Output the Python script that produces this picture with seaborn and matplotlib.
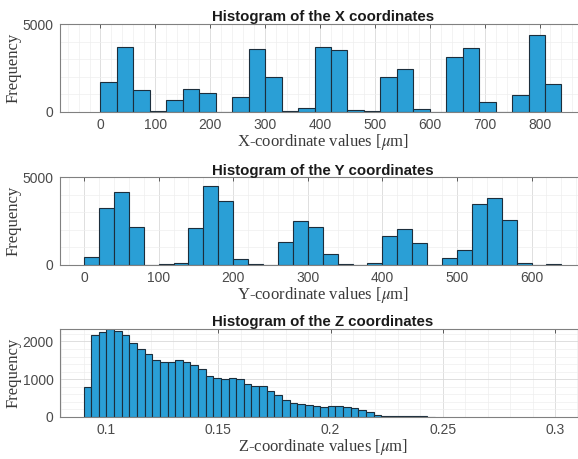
"""
Histogramas de las coordenadas X, Y, Z
"""

import numpy as np
import pandas as pd
import matplotlib
matplotlib.use("Agg")
import matplotlib.pyplot as plt
from matplotlib.ticker import MultipleLocator
import seaborn as sns

# Conteos (un valor por bin)
x_bin_start, x_bin_width = 0, 30
x_counts = [1700, 3690, 1250, 40, 660, 1300, 1040, 0, 820, 3580,
            2000, 20, 200, 3690, 3540, 80, 40, 1970, 2430, 150,
            0, 3120, 3610, 520, 0, 960, 4360, 1600]

y_bin_start, y_bin_width = 0, 20
y_counts = [450, 3230, 4140, 2130, 0, 10, 60, 2080, 4510, 3620,
            290, 40, 0, 1270, 2470, 2150, 590, 10, 0, 90,
            1620, 2020, 1230, 0, 370, 820, 3480, 3820, 2580, 90,
            0, 15]

z_bin_start, z_bin_width = 0.09, 0.0034
z_counts = [780, 2160, 2250, 2330, 2280, 2160, 1970, 1800, 1660, 1520,
            1450, 1450, 1520, 1460, 1380, 1270, 1080, 1040, 1000, 1040,
            990, 860, 810, 820, 690, 570, 450, 370, 330, 310,
            290, 270, 280, 280, 250, 220, 180, 130, 50, 30,
            20, 15, 20, 10, 15, 5]

titles = ["Histogram of the X coordinates",
          "Histogram of the Y coordinates",
          "Histogram of the Z coordinates"]
xlabels = [r"X-coordinate values [$\mu$m]",
           r"Y-coordinate values [$\mu$m]",
           r"Z-coordinate values [$\mu$m]"]

BAR_COLOR = "#2a9fd6"
EDGE_COLOR = "#1c2e3c"


def draw_histogram(ax, start, width, counts, title, xlabel,
                   xlim, ylim, yticks, xmajor, xminor, yminor):
    """Dibuja un histograma a partir de los conteos por bin"""
    edges = start + width * np.arange(len(counts) + 1)
    centers = (edges[:-1] + edges[1:]) / 2
    df = pd.DataFrame({"value": centers, "freq": counts})

    sns.histplot(data=df, x="value", weights="freq", bins=[float(e) for e in edges],
                 ax=ax, color=BAR_COLOR, alpha=1, edgecolor=EDGE_COLOR,
                 linewidth=0.8)

    ax.set_xlim(*xlim)
    ax.set_ylim(*ylim)
    ax.set_yticks(yticks)
    ax.xaxis.set_major_locator(MultipleLocator(xmajor))
    ax.xaxis.set_minor_locator(MultipleLocator(xminor))
    ax.yaxis.set_minor_locator(MultipleLocator(yminor))

    # grid estilo MATLAB
    ax.set_axisbelow(True)
    ax.grid(True, which="major", color="#d9d9d9", linewidth=0.6)
    ax.grid(True, which="minor", color="#eeeeee", linewidth=0.5)

    ax.tick_params(which="major", direction="in", top=True, right=False,
                   length=3, width=0.6, color="#444444",
                   labelsize=10, labelcolor="#4a4a4a", pad=4.5)
    ax.tick_params(which="minor", length=0)
    for lbl in ax.get_xticklabels() + ax.get_yticklabels():
        lbl.set_fontfamily("Liberation Sans")

    for side in ["top", "bottom", "left", "right"]:
        ax.spines[side].set_color("#808080")
        ax.spines[side].set_linewidth(0.8)

    ax.set_title(title, fontsize=10.8, fontweight="bold",
                 fontfamily="Liberation Sans", color="#1a1a1a", pad=2)
    ax.set_xlabel(xlabel, fontsize=12, fontfamily="Liberation Serif",
                  color="#3a3a3a", labelpad=0)
    ax.set_ylabel("Frequency", fontsize=12, fontfamily="Liberation Serif",
                  color="#3a3a3a", labelpad=1)


sns.set_theme(style="white")
plt.rcParams["mathtext.fontset"] = "stix"
plt.rcParams["font.family"] = ["Liberation Sans", "DejaVu Sans"]

fig = plt.figure(figsize=(5.78, 4.59), dpi=100)

left, width = 60 / 578, 526 / 578
ax1 = fig.add_axes([left, 1 - 111.5 / 459, width, 87.5 / 459])
ax2 = fig.add_axes([left, 1 - 264.5 / 459, width, 87.2 / 459])
ax3 = fig.add_axes([left, 1 - 416.7 / 459, width, 88 / 459])

draw_histogram(ax1, x_bin_start, x_bin_width, x_counts, titles[0], xlabels[0],
               xlim=(-73.8, 884.7), ylim=(0, 5000), yticks=[0, 5000],
               xmajor=100, xminor=20, yminor=1000)
draw_histogram(ax2, y_bin_start, y_bin_width, y_counts, titles[1], xlabels[1],
               xlim=(-32.2, 673), ylim=(0, 5000), yticks=[0, 5000],
               xmajor=100, xminor=20, yminor=1000)
draw_histogram(ax3, z_bin_start, z_bin_width, z_counts, titles[2], xlabels[2],
               xlim=(0.0795, 0.3138), ylim=(0, 2340), yticks=[0, 1000, 2000],
               xmajor=0.05, xminor=0.01, yminor=200)

ax3.set_xticks([0.1, 0.15, 0.2, 0.25, 0.3])
ax3.set_xticklabels(["0.1", "0.15", "0.2", "0.25", "0.3"],
                    fontfamily="Liberation Sans")

fig.savefig("out.png", dpi=100)
plt.close(fig)
